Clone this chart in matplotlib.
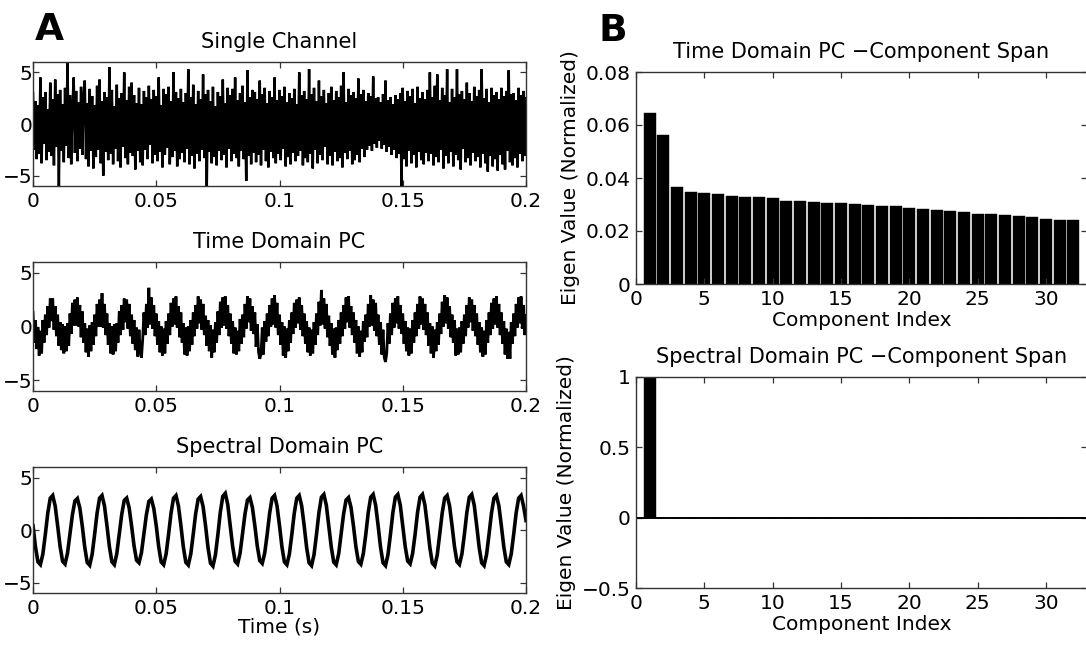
import numpy as np
import matplotlib
matplotlib.use("Agg")
import matplotlib.pyplot as plt

# ---------------- data ----------------
# Panel A: time series (0 .. 0.2 s)
single_channel = [
    3.0, -2.5, 2.2, -3.4, 1.8, -2.9, 4.5, -3.8, 2.6, -1.9, 3.1, -3.5, 1.4, -2.7, 4.0, -3.1, 2.4, -4.0, 4.3, -2.2,
    2.9, -6.0, 3.3, -2.6, 1.9, -3.7, 3.5, -2.1, 5.9, -3.3, 2.8, -3.9, 1.6, 4.5, -2.8, 3.2, -3.6, 2.1, -2.4, 3.6,
    -3.0, 2.5, 4.2, -3.4, 2.0, -4.1, 3.4, -2.6, 2.7, -4.3, 1.8, -3.2, 3.7, -2.5, 4.3, -3.8, 2.2, -5.0, 3.1, -2.7,
    2.6, -3.5, 5.5, -2.9, 3.3, -3.9, 1.7, -2.4, 3.8, -3.6, 2.5, -4.2, 3.0, -2.2, 5.0, -3.3, 2.3, -3.9, 3.6, -2.8,
    4.0, -3.1, 2.8, -4.4, 2.0, -2.6, 3.5, -3.7, 1.9, -4.0, 3.2, -2.5, 2.6, -3.4, 3.7, -2.0, 2.4, -3.8, 3.3, -3.0,
    2.7, -3.6, 4.5, -2.7, 1.8, -4.2, 3.4, -3.0, 2.9, -2.3, 3.6, -3.9, 2.2, -3.2, 5.0, -2.6, 3.1, -4.1, 2.5, -3.4,
    3.4, -2.8, 2.1, -3.7, 3.0, -2.4, 5.3, -3.9, 2.6, -3.1, 3.8, -4.3, 1.9, -2.9, 3.2, -3.6, 2.4, -2.5, 4.8, -3.3,
    2.9, -6.0, 3.3, -2.7, 2.2, -3.8, 3.6, -3.2, 1.7, -4.0, 3.1, -2.6, 2.7, -3.5, 4.3, -3.0, 2.0, -4.2, 3.5, -2.4,
    2.8, -3.6, 3.4, -2.9, 4.5, -3.3, 2.3, -4.1, 3.0, -2.6, 3.7, -3.4, 2.1, -5.5, 5.2, -3.1, 2.6, -3.9, 3.3, -2.8,
    3.1, -3.7, 2.4, -3.0, 4.2, -4.0, 2.9, -2.5, 3.5, -3.6, 2.0, -4.2, 3.2, -2.7, 2.6, -3.3, 4.5, -3.8, 2.3, -2.9,
    3.3, -3.5, 2.7, -2.4, 3.6, -4.1, 2.1, -3.2, 3.0, -3.9, 2.5, -2.8, 3.4, -3.6, 1.9, -3.1, 5.0, -2.6, 2.8, -4.0,
    3.2, -3.3, 2.4, -3.7, 5.3, -2.9, 2.9, -4.3, 3.5, -2.5, 2.2, -3.8, 4.2, -3.0, 2.7, -3.5, 3.3, -2.2, 2.0, -3.9,
    3.0, -3.1, 3.6, -4.0, 2.3, -2.7, 3.2, -3.6, 2.6, -3.3, 3.7, -4.2, 5.0, -2.8, 2.1, -3.4, 3.4, -2.6, 2.8, -3.9,
    3.1, -3.5, 2.5, -3.0, 4.4, -3.7, 2.9, -2.4, 3.3, -3.2, 2.2, -2.5, 3.0, -2.1, 2.7, -2.6, 4.6, -1.9, 2.5, -2.3,
    2.6, -1.6, 2.1, -2.4, 2.9, -2.0, 4.2, -2.7, 2.3, -2.2, 2.6, -3.0, 1.9, -2.5, 2.8, -3.3, 2.4, -2.9, 3.0, -6.0,
    3.5, -3.4, 2.2, -4.1, 3.2, -2.6, 2.7, -3.8, 3.4, -3.0, 2.0, -4.2, 3.6, -2.7, 2.5, -3.5, 3.1, -3.9, 2.4, -2.8,
    3.3, -3.6, 5.0, -2.9, 2.6, -4.0, 3.7, -3.2, 4.8, -3.7, 2.3, -2.5, 3.5, -4.3, 2.8, -3.1, 5.3, -3.8, 2.1, -2.7,
    3.4, -4.1, 2.6, -3.0, 5.3, -3.5, 2.9, -4.4, 3.2, -2.4, 2.4, -3.7, 4.0, -3.3, 3.0, -4.0, 2.2, -2.8, 3.6, -3.6,
    2.7, -3.2, 3.3, -4.2, 5.3, -2.9, 2.5, -3.8, 3.4, -4.6, 2.1, -3.1, 3.5, -4.1, 2.8, -3.4, 3.1, -4.5, 2.4, -3.0,
    3.5, -3.9, 2.7, -4.4, 3.2, -2.6, 5.2, -3.7, 2.9, -4.0, 3.0, -3.3, 2.3, -4.2, 3.5, -2.9, 2.8, -3.6, 3.2, -3.1,
    2.5,
]

time_domain_pc = [
    1.3, -1.5, 0.6, -2.1, -0.1, -2.7, -0.4, -2.5, 0.6, -1.5, 1.1, -0.8, 1.9, -0.1, 2.6, 0.5, 2.6, -0.3, 1.9, -0.9,
    1.1, -1.8, 0.4, -2.2, 0.2, -2.5, 0.0, -2.3, 0.3, -1.8, 1.2, -0.7, 2.2, 0.1, 2.5, 0.1, 2.7, 0.0, 2.0, -1.0,
    1.4, -1.5, 0.3, -2.4, -0.2, -2.8, 0.1, -2.3, 0.4, -1.7, 1.1, -0.9, 2.1, 0.0, 2.5, 0.0, 3.1, -0.1, 2.1, -0.8,
    1.2, -1.7, 0.3, -2.5, 0.0, -2.6, 0.2, -2.3, 0.3, -1.5, 1.4, -0.8, 2.0, -0.3, 2.6, 0.4, 2.5, -0.2, 2.1, -0.9,
    1.1, -1.6, 0.6, -2.2, -0.1, -2.8, -0.3, -2.3, -2.9, -1.2, 1.3, -0.8, 2.1, -0.1, 3.6, 0.2, 2.7, -0.2, 2.0, -0.9,
    1.2, -1.7, 0.5, -2.4, 0.0, -2.7, -0.2, -2.5, 0.5, -1.6, 1.2, -0.8, 2.2, 0.0, 2.6, 0.2, 2.8, -0.1, 1.9, -1.0,
    1.3, -1.5, 0.3, -2.6, -0.1, -2.7, 0.0, -2.3, 0.6, -1.7, 1.3, -0.9, 2.0, -0.2, 2.8, 0.3, 2.5, -0.3, 2.1, -0.8,
    1.0, -1.8, 0.6, -2.3, 0.1, -2.9, -0.3, -2.4, 0.4, -1.5, 1.4, -0.8, 2.3, -0.1, 2.7, 0.1, 2.8, -0.2, 2.0, -0.9,
    1.2, -1.6, 0.5, -2.5, -0.1, -2.6, -0.4, -2.3, 0.7, -1.6, 1.1, -1.0, 2.1, -0.2, 2.8, 0.4, 2.6, -0.4, 1.9, -0.7,
    1.3, -1.9, 0.2, -2.4, -3.0, -2.6, -0.1, -2.6, 0.5, -1.4, 1.2, -0.9, 2.0, 0.0, 2.6, 0.2, 2.9, -0.1, 2.2, -0.8,
    1.1, -1.7, 0.4, -2.7, 0.0, -2.9, -0.2, -2.3, 0.6, -1.5, 1.3, -0.7, 2.2, -0.1, 2.5, 0.3, 2.7, -0.3, 2.0, -0.9,
    1.2, -1.6, 0.5, -2.4, -0.1, -2.7, -0.3, -2.5, 0.4, -1.7, 1.2, -0.8, 2.3, 0.1, 3.4, 0.2, 2.6, -0.2, 2.1, -1.0,
    1.0, -1.8, 0.3, -2.6, -0.2, -2.9, -0.1, -2.2, 0.6, -1.6, 1.3, -0.9, 2.0, -0.2, 2.7, 0.4, 2.8, -0.1, 1.9, -0.8,
    1.3, -1.5, 0.6, -2.5, 0.0, -2.8, -0.4, -2.4, 0.5, -1.4, 1.1, -1.0, 2.1, 0.0, 2.9, 0.1, 2.5, -0.4, 2.2, -0.9,
    1.1, -1.7, 0.4, -2.6, -0.3, -2.9, -3.3, -2.5, 0.3, -1.6, 1.2, -0.8, 2.2, -0.1, 2.6, 0.3, 2.8, -0.2, 2.0, -0.7,
    1.2, -1.6, 0.5, -2.3, -0.1, -2.7, -0.2, -2.5, 0.6, -1.5, 1.3, -0.9, 2.1, -0.2, 2.8, 0.2, 2.6, -0.3, 2.1, -0.8,
    1.3, -1.8, 0.3, -2.5, 0.0, -2.9, -0.3, -2.3, 0.4, -1.7, 1.2, -0.7, 2.3, 0.0, 2.9, 0.3, 2.7, -0.2, 1.9, -1.0,
    1.1, -1.5, 0.6, -2.7, -0.2, -2.6, -0.1, -2.4, 0.5, -1.6, 1.1, -0.9, 2.0, -0.1, 2.7, 0.4, 2.5, -0.4, 2.0, -0.9,
    1.2, -1.7, 0.4, -2.4, -0.1, -2.8, -0.4, -2.6, 0.6, -1.5, 1.3, -0.8, 2.2, -0.2, 2.6, 0.2, 2.8, -0.1, 2.1, -0.8,
    1.3, -1.6, 0.5, -2.6, -0.2, -3.0, -0.5, -3.0, 0.4, -1.6, 1.2, -0.9, 2.1, -0.1, 2.7, 0.3, 2.8, -0.2, 2.0, -0.8,
    1.0,
]

spectral_domain_pc = [
    0.42, -1.61, -3.03, -3.29, -2.29, -0.42, 1.61, 3.03, 3.29, 2.29,
    0.40, -1.58, -2.98, -3.24, -2.20, -0.38, 1.47, 2.76, 3.00, 2.09,
    0.36, -1.65, -3.10, -3.36, -2.31, -0.42, 1.61, 3.03, 3.29, 2.29,
    0.41, -1.60, -3.02, -3.30, -2.25, -0.40, 1.49, 2.81, 3.04, 2.12,
    0.38, -1.52, -2.88, -3.12, -2.15, -0.38, 1.45, 2.72, 2.95, 2.06,
    0.40, -1.60, -3.05, -3.31, -2.28, -0.42, 1.61, 3.03, 3.29, 2.29,
    0.42, -1.63, -3.08, -3.34, -2.30, -0.41, 1.57, 2.94, 3.19, 2.23,
    0.41, -1.68, -3.16, -3.44, -2.38, -0.44, 1.71, 3.21, 3.49, 2.43,
    0.44, -1.58, -2.98, -3.24, -2.22, -0.39, 1.52, 2.85, 3.09, 2.16,
    0.40, -1.55, -2.92, -3.18, -2.20, -0.42, 1.61, 3.03, 3.29, 2.29,
    0.42, -1.62, -3.05, -3.31, -2.30, -0.42, 1.61, 3.03, 3.29, 2.29,
    0.43, -1.66, -3.12, -3.39, -2.36, -0.43, 1.66, 3.12, 3.39, 2.36,
    0.40, -1.62, -3.06, -3.32, -2.28, -0.39, 1.52, 2.85, 3.09, 2.16,
    0.39, -1.60, -3.00, -3.26, -2.25, -0.43, 1.66, 3.12, 3.39, 2.36,
    0.43, -1.66, -3.12, -3.39, -2.36, -0.43, 1.66, 3.12, 3.39, 2.36,
    0.42, -1.58, -2.96, -3.22, -2.24, -0.43, 1.66, 3.12, 3.39, 2.36,
    0.43, -1.68, -3.15, -3.42, -2.37, -0.42, 1.61, 3.03, 3.29, 2.29,
    0.41, -1.60, -3.02, -3.28, -2.28, -0.43, 1.66, 3.12, 3.39, 2.36,
    0.42, -1.66, -3.12, -3.39, -2.34, -0.42, 1.61, 3.03, 3.29, 2.29,
    0.40, -1.61, -3.03, -3.29, -2.29, -0.42, 1.61, 3.03, 3.29, 2.29,
    0.90,
]

series_titles = ["Single Channel", "Time Domain PC", "Spectral Domain PC"]
time_ticks = [0, 0.05, 0.1, 0.15, 0.2]
time_tick_labels = ["0", "0.05", "0.1", "0.15", "0.2"]
amp_ticks = [-5, 0, 5]

# Panel B: eigen value spectra
component_index = list(range(1, 33))
time_domain_eig = [
    0.0646, 0.0564, 0.0365, 0.0348, 0.0344, 0.0339, 0.0332, 0.0327, 0.0327, 0.0323,
    0.0315, 0.0315, 0.0310, 0.0306, 0.0306, 0.0301, 0.0300, 0.0294, 0.0294, 0.0288,
    0.0284, 0.0279, 0.0275, 0.0270, 0.0266, 0.0266, 0.0261, 0.0256, 0.0252, 0.0247,
    0.0241, 0.0241,
]
spectral_domain_eig = [1.0] + [0.0] * 31
eig_titles = ["Time Domain PC \u2212Component Span", "Spectral Domain PC \u2212Component Span"]
comp_ticks = [0, 5, 10, 15, 20, 25, 30]
eig1_ticks = [0, 0.02, 0.04, 0.06, 0.08]
eig1_labels = ["0", "0.02", "0.04", "0.06", "0.08"]
eig2_ticks = [-0.5, 0, 0.5, 1]
eig2_labels = ["\u22120.5", "0", "0.5", "1"]

# ---------------- figure ----------------
W, H = 1086, 649
plt.rcParams["font.family"] = ["DejaVu Sans"]
fig = plt.figure(figsize=(W / 100, H / 100), dpi=100)

def px_axes(left, top, right, bottom):
    return fig.add_axes([left / W, 1 - bottom / H, (right - left) / W, (bottom - top) / H])

TICK_FS = 14.5
TITLE_FS = 15
SPINE_C = "#333333"

def style(ax, ypad=4):
    for s in ax.spines.values():
        s.set_color(SPINE_C)
        s.set_linewidth(1.0)
    ax.tick_params(direction="in", length=4, width=0.9, color=SPINE_C,
                   top=True, right=True, labelsize=TICK_FS, pad=4)
    ax.tick_params(axis="y", pad=ypad)

left_boxes = [(33, 62, 526, 186), (33, 262, 526, 391), (33, 467, 526, 593)]
series = [single_channel, time_domain_pc, spectral_domain_pc]
widths = [1.8, 2.0, 2.6]
for box, y, ttl, lw in zip(left_boxes, series, series_titles, widths):
    ax = px_axes(*box)
    t = np.linspace(0, 0.2, len(y))
    ax.plot(t, y, color="black", lw=lw, solid_joinstyle="miter")
    ax.set_xlim(0, 0.2)
    ax.set_ylim(-6, 6)
    ax.set_xticks(time_ticks)
    ax.set_xticklabels(time_tick_labels)
    ax.set_yticks(amp_ticks)
    ax.set_title(ttl, fontsize=TITLE_FS, pad=10)
    style(ax, ypad=0.5)
    last = ax
last.set_xlabel("Time (s)", fontsize=TICK_FS, labelpad=0)

# Panel B
axb1 = px_axes(636, 72, 1087, 284)
axb1.bar(component_index, time_domain_eig, width=0.88, color="black", edgecolor="black", linewidth=0.3)
axb1.set_xlim(0, 33)
axb1.set_ylim(0, 0.08)
axb1.set_xticks(comp_ticks)
axb1.set_yticks(eig1_ticks)
axb1.set_yticklabels(eig1_labels)
axb1.set_title(eig_titles[0], fontsize=TITLE_FS, pad=10)
axb1.set_xlabel("Component Index", fontsize=TICK_FS, labelpad=2)
axb1.set_ylabel("Eigen Value (Normalized)", fontsize=TICK_FS, labelpad=4)
style(axb1)

axb2 = px_axes(636, 377, 1087, 588)
axb2.bar(component_index, spectral_domain_eig, width=0.88, color="black", edgecolor="black", linewidth=0.3)
axb2.axhline(0, color="black", lw=1.4)
axb2.set_xlim(0, 33)
axb2.set_ylim(-0.5, 1)
axb2.set_xticks(comp_ticks)
axb2.set_yticks(eig2_ticks)
axb2.set_yticklabels(eig2_labels)
axb2.set_title(eig_titles[1], fontsize=TITLE_FS, pad=10)
axb2.set_xlabel("Component Index", fontsize=TICK_FS, labelpad=2)
axb2.set_ylabel("Eigen Value (Normalized)", fontsize=TICK_FS, labelpad=4)
style(axb2)

fig.text(35 / W, 1 - 40 / H, "A", fontsize=27, fontweight="heavy", va="baseline", ha="left")
fig.text(598 / W, 1 - 41 / H, "B", fontsize=27, fontweight="heavy", va="baseline", ha="left")

fig.savefig("out.png", dpi=100)
